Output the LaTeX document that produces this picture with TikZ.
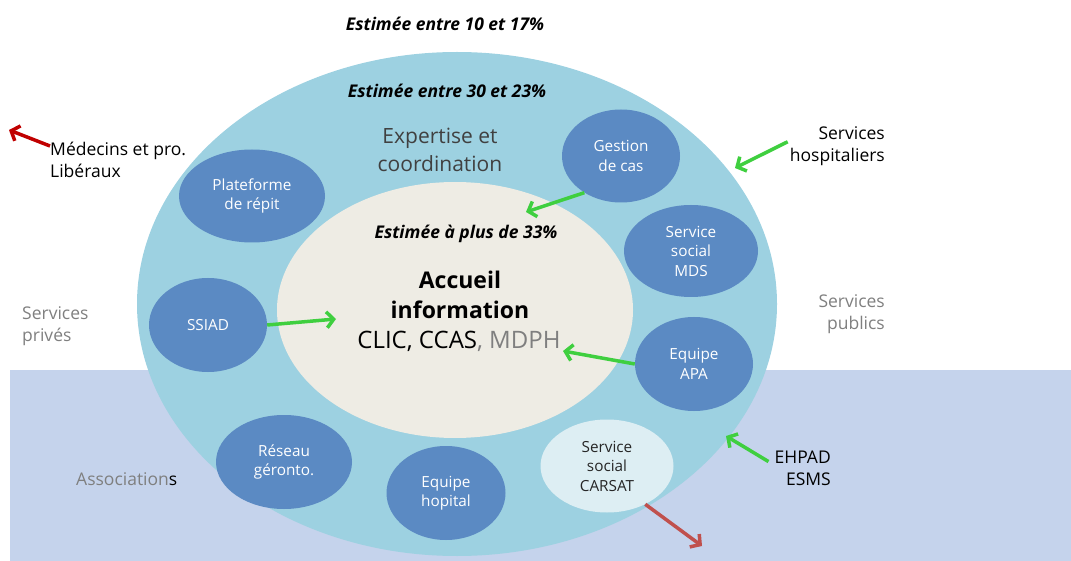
\documentclass[tikz,border=0pt]{standalone}
\usepackage{fontspec}
\setmainfont{Open Sans}
\usetikzlibrary{arrows.meta,shapes.geometric}
\definecolor{outerc}{HTML}{9DD1E1}
\definecolor{lowc}{HTML}{C5D3EC}
\definecolor{bluec}{HTML}{5B8AC3}
\definecolor{innerc}{HTML}{EEECE4}
\definecolor{lightc}{HTML}{DDEEF3}
\definecolor{greenc}{HTML}{3FCF3F}
\definecolor{redc}{HTML}{C00000}
\definecolor{red2c}{HTML}{C0504D}
\definecolor{grayt}{HTML}{7F7F7F}
\definecolor{darkt}{HTML}{404040}
\tikzset{
  bub/.style={ellipse, fill=bluec, text=white, align=center, font=\fontsize{15.3}{19.5}\selectfont, inner sep=0pt},
  lbl/.style={font=\fontsize{17.5}{22}\selectfont, inner sep=0pt},
  est/.style={font=\fontsize{17.5}{20}\selectfont\bfseries\itshape, inner sep=0pt},
  garr/.style={draw=greenc, line width=3.5pt, -{Straight Barb[length=7pt,width=16pt,line width=3.5pt]}},
  rarr/.style={draw=redc, line width=3.5pt, -{Straight Barb[length=7pt,width=16pt,line width=3.5pt]}},
  rarrb/.style={draw=red2c, line width=3.5pt, -{Straight Barb[length=7pt,width=16pt,line width=3.5pt]}},
}
\begin{document}
\begin{tikzpicture}[x=1pt,y=-1pt]
\useasboundingbox (0,0) rectangle (1071,561);
\fill[lowc] (10,370) rectangle (1071,561);
\fill[outerc] (457,304) ellipse [x radius=320, y radius=252];
\fill[innerc] (455,310) ellipse [x radius=178, y radius=128];

\node[bub, minimum width=146pt, minimum height=93pt] (plat) at (252,196) {Plateforme\\de répit};
\node[bub, minimum width=118pt, minimum height=93pt] (gest) at (621,156) {Gestion\\de cas};
\node[bub, minimum width=134pt, minimum height=92pt] (mds) at (691,251) {Service\\social\\MDS};
\node[bub, minimum width=118pt, minimum height=94pt] (ssiad) at (208,325) {SSIAD};
\node[bub, minimum width=118pt, minimum height=94pt] (apa) at (694,364) {Equipe\\APA};
\node[bub, minimum width=136pt, minimum height=94pt] (res) at (284,462) {Réseau\\géronto.};
\node[bub, minimum width=119pt, minimum height=94pt] (hop) at (446,493) {Equipe\\hopital};
\node[bub, fill=lightc, text=black!85, minimum width=133pt, minimum height=93pt] (carsat) at (607,466) {Service\\social\\CARSAT};

\node[est] (e1) at (445,24) {Estimée entre 10 et 17\%};
\node[est] (e2) at (447,91) {Estimée entre 30 et 23\%};
\node[est] (e3) at (466,234) {Estimée à plus de 33\%};
\node[font=\fontsize{21}{28}\selectfont, text=darkt, align=center, inner sep=0pt] (exp) at (440,150) {Expertise et\\coordination};
\node[font=\fontsize{23}{30}\selectfont\bfseries, align=center, inner sep=0pt] (acc) at (460,295) {Accueil\\information};
\node[font=\fontsize{24}{28}\selectfont, inner sep=0pt] (clic) at (459,341) {CLIC, CCAS{\color{grayt}, MDPH}};

\node[lbl, align=left, anchor=north west] (med) at (50,142) {Médecins et pro.\\Libéraux};
\node[lbl, align=right, anchor=north east] (hosp) at (885,126) {Services\\hospitaliers};
\node[lbl, text=grayt, align=left, anchor=north west] (priv) at (22,306) {Services\\privés};
\node[lbl, text=grayt, align=right, anchor=north east] (pub) at (885,294) {Services\\publics};
\node[lbl, anchor=north west] (asso) at (76,472) {{\color{grayt}Association}s};
\node[lbl, align=right, anchor=north east] (ehpad) at (831,451) {EHPAD\\ESMS};

\coordinate (medtip) at (9,130);
\coordinate (hosptip) at (735,168);
\coordinate (ehpadtip) at (726,436);
\coordinate (inner1) at (526,212);
\coordinate (inner2) at (336,319);
\coordinate (inner3) at (563,351);
\coordinate (carsattip) at (702,546);

\draw[rarr] (med.north west) ++(0,4) -- (medtip);
\draw[garr] (hosp.west) ++(-2,-4) -- (hosptip);
\draw[garr] (ehpad.west) ++(-6,-7) -- (ehpadtip);
\draw[garr] (gest.225) -- (inner1);
\draw[garr] (ssiad.east) -- (inner2);
\draw[garr] (apa.west) -- (inner3);
\draw[rarrb] (carsat.-45) -- (carsattip);
\end{tikzpicture}
\end{document}
